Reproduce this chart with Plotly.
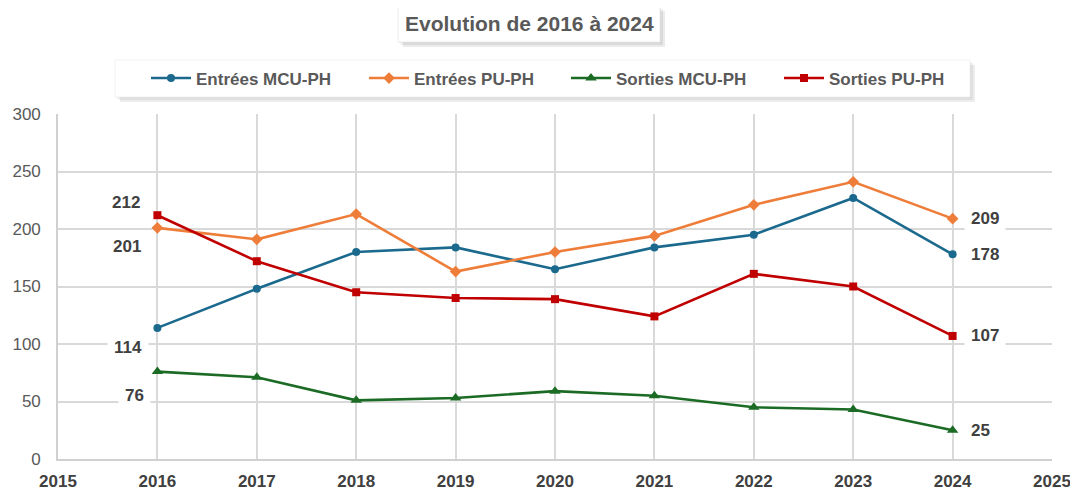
import plotly.graph_objects as go

years = [2016, 2017, 2018, 2019, 2020, 2021, 2022, 2023, 2024]
entrees_mcu = [114, 148, 180, 184, 165, 184, 195, 227, 178]
entrees_pu = [201, 191, 213, 163, 180, 194, 221, 241, 209]
sorties_mcu = [76, 71, 51, 53, 59, 55, 45, 43, 25]
sorties_pu = [212, 172, 145, 140, 139, 124, 161, 150, 107]
names = ["Entrées MCU-PH", "Entrées PU-PH", "Sorties MCU-PH", "Sorties PU-PH"]
title_text = "Evolution de 2016 à 2024"

# page is rendered with an 8px body margin: figure origin at (8, 8)
OFF = 8
PAGE_W, PAGE_H = 1078, 492
PL, PR, PT, PB = 58, 1052, 114, 459  # plot area in page pixels
W, H = PAGE_W - OFF, PAGE_H - OFF
L, T = PL - OFF, PT - OFF
R, B = PAGE_W - PR, PAGE_H - PB
PW, PH = PR - PL, PB - PT

def px(x):
    return (x - PL) / PW

def py(y):
    return (PB - y) / PH

colors = ["#1B6A8E", "#EE7D3A", "#1B6B25", "#C00000"]
symbols = ["circle", "diamond", "triangle-up", "square"]
sizes = [8, 9, 10, 8]
series = [entrees_mcu, entrees_pu, sorties_mcu, sorties_pu]
legend_ids = ["legend", "legend2", "legend3", "legend4"]
legend_left = [148, 366, 568, 781]  # left edge of each legend entry symbol (page px)

BASE = "Liberation Sans, Arial, sans-serif"

fig = go.Figure()
for name, vals, c, s, sz, lid in zip(names, series, colors, symbols, sizes, legend_ids):
    fig.add_trace(go.Scatter(
        x=years, y=vals, name=name, mode="lines+markers",
        line=dict(color=c, width=2.6),
        marker=dict(symbol=s, size=sz, color=c),
        cliponaxis=False, legend=lid,
    ))

# data labels
lab_font = dict(family=BASE, size=17, color="#404040", weight="bold")
first_shifts = [(-8, -20), (-9, -19), (-6, -24), (-10, 13)]
for vals, (dx, dy) in zip(series, first_shifts):
    fig.add_annotation(x=years[0], y=vals[0], text=str(vals[0]),
                       xref="x", yref="y", showarrow=False, xanchor="right",
                       xshift=dx, yshift=dy,
                       font=lab_font, bgcolor="white", borderpad=6)
for vals in series:
    fig.add_annotation(x=years[-1], y=vals[-1], text=str(vals[-1]),
                       xref="x", yref="y", showarrow=False, xanchor="left",
                       xshift=11, yshift=0,
                       font=lab_font, bgcolor="white", borderpad=6)

shapes = []
# title shadow + box
for i, op in enumerate([0.07, 0.07, 0.08]):
    o = 1 + i * 2
    shapes.append(dict(type="rect", xref="paper", yref="paper",
                       x0=px(398 + o), x1=px(660 + o), y0=py(42 + o), y1=py(6 + o),
                       fillcolor="rgba(0,0,0,%.2f)" % op, line=dict(width=0), layer="below"))
shapes.append(dict(type="rect", xref="paper", yref="paper",
                   x0=px(398), x1=px(660), y0=py(42), y1=py(6),
                   fillcolor="white", line=dict(color="#EDEDED", width=1), layer="below"))
# legend shadow + box
for i, op in enumerate([0.06, 0.06, 0.07]):
    o = 1 + i * 2
    shapes.append(dict(type="rect", xref="paper", yref="paper",
                       x0=px(115 + o), x1=px(970 + o), y0=py(97 + o), y1=py(60 + o),
                       fillcolor="rgba(0,0,0,%.2f)" % op, line=dict(width=0), layer="below"))
shapes.append(dict(type="rect", xref="paper", yref="paper",
                   x0=px(115), x1=px(970), y0=py(97), y1=py(60),
                   fillcolor="white", line=dict(color="#F2F2F2", width=1), layer="below"))

fig.add_annotation(x=px(529), y=py(24), xref="paper", yref="paper", showarrow=False,
                   xanchor="center", yanchor="middle",
                   text=title_text,
                   font=dict(family=BASE, size=21, color="#595959", weight="bold"))

legend_common = dict(orientation="h", yanchor="middle", y=py(78.5), xanchor="left",
                     bgcolor="rgba(0,0,0,0)", borderwidth=0,
                     font=dict(family=BASE, size=17, color="#595959", weight="bold"),
                     itemwidth=40)
legend_layout = {}
for lid, lx in zip(legend_ids, legend_left):
    d = dict(legend_common)
    d["x"] = px(lx - 2)
    legend_layout[lid] = d

fig.update_layout(
    width=W, height=H,
    margin=dict(l=L, r=R, t=T, b=B, autoexpand=False),
    paper_bgcolor="white", plot_bgcolor="white",
    shapes=shapes,
    showlegend=True,
    xaxis=dict(range=[2015, 2025], dtick=1, tick0=2015, showgrid=True,
               gridcolor="#D9D9D9", gridwidth=1.6, zeroline=False,
               showline=True, linecolor="#D0D0D0", linewidth=1.6,
               ticks="", ticklabelstandoff=6,
               tickfont=dict(family=BASE, size=17, color="#404040", weight="bold")),
    yaxis=dict(range=[0, 300], dtick=50, showgrid=True,
               gridcolor="#D9D9D9", gridwidth=1.6, zeroline=False,
               showline=True, linecolor="#D0D0D0", linewidth=1.6,
               ticks="", ticklabelstandoff=12,
               tickfont=dict(family=BASE, size=17, color="#595959")),
    **legend_layout,
)

fig.write_html("out.html")
